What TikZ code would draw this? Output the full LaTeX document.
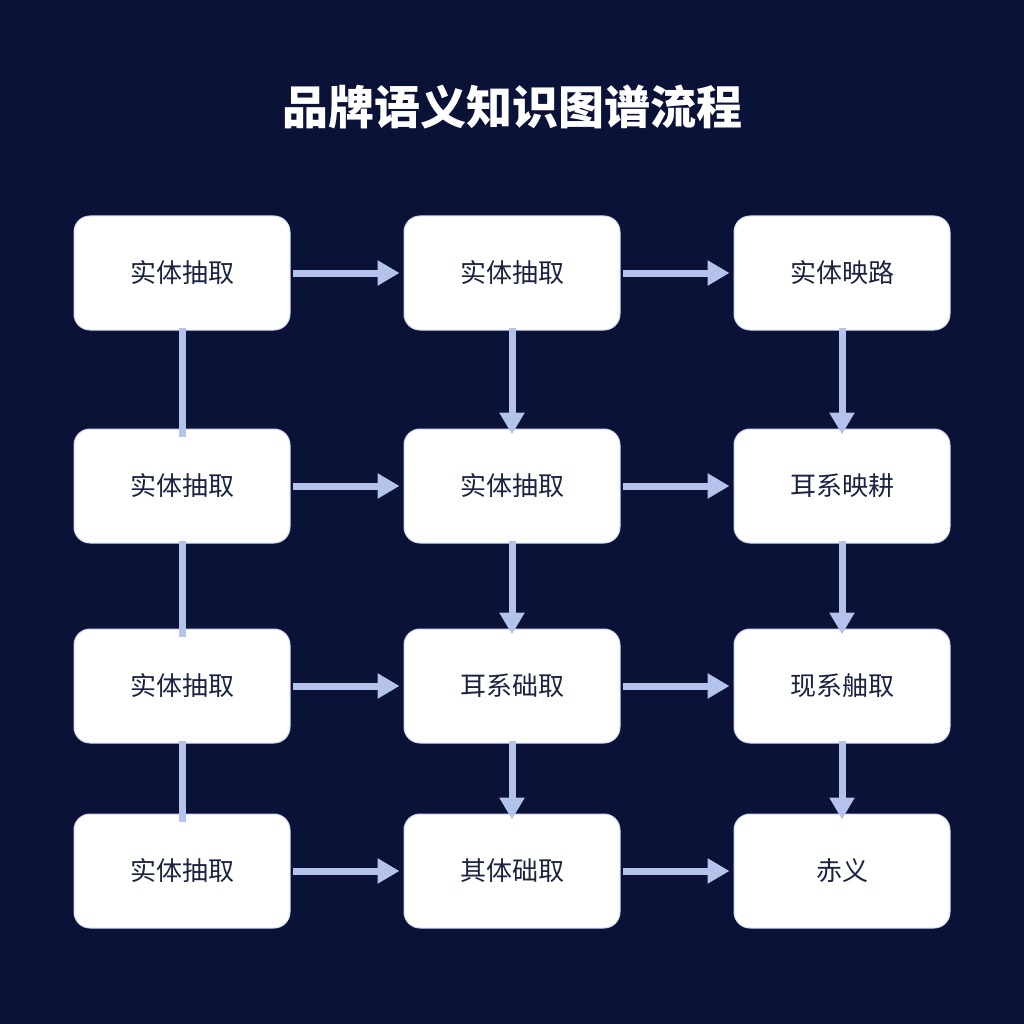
\documentclass[tikz,border=0pt]{standalone}
\usepackage{fontspec}
\newfontfamily\cjk{Noto Sans CJK SC}
\newfontfamily\cjkb{Noto Sans CJK SC Black}
\usetikzlibrary{arrows.meta}
\definecolor{bg}{HTML}{0A1238}
\definecolor{arr}{HTML}{B4C3EC}
\definecolor{txt}{HTML}{1A2340}
\begin{document}
\begin{tikzpicture}[x=1pt,y=-1pt,
  box/.style={draw=arr!60,line width=1pt,fill=white,rounded corners=16pt,minimum width=216pt,minimum height=114pt,font=\cjk\fontsize{26}{30}\selectfont,text=txt},
  con/.style={draw=arr,line width=7pt},
  ar/.style={con,-{Triangle[width=24pt,length=22pt]}}]
\fill[bg] (0,0) rectangle (1024,1024);
\useasboundingbox (0,0) rectangle (1024,1024);
\node[font=\cjk\bfseries\fontsize{46}{50}\selectfont,text=white] (title) at (512,107) {品牌语义知识图谱流程};
\foreach \n/\x/\y/\t in {a1/182/273/实体抽取,a2/512/273/实体抽取,a3/842/273/实体映路,
 b1/182/486/实体抽取,b2/512/486/实体抽取,b3/842/486/耳系映耕,
 c1/182/686/实体抽取,c2/512/686/耳系础取,c3/842/686/现系舳取,
 d1/182/871/实体抽取,d2/512/871/其体础取,d3/842/871/赤义}
 \node[box] (\n) at (\x,\y) {\t};
\foreach \r in {a,b,c,d}{
 \draw[ar] ([xshift=2pt]\r1.east) -- ([xshift=-4pt]\r2.west);
 \draw[ar] ([xshift=2pt]\r2.east) -- ([xshift=-4pt]\r3.west);}
\foreach \p/\q in {a/b,b/c,c/d}{
 \draw[con] ([yshift=3pt]\p1.south) -- ([yshift=-8pt]\q1.north);
 \draw[ar] ([yshift=3pt]\p2.south) -- ([yshift=-6pt]\q2.north);
 \draw[ar] ([yshift=3pt]\p3.south) -- ([yshift=-6pt]\q3.north);}
\end{tikzpicture}
\end{document}
